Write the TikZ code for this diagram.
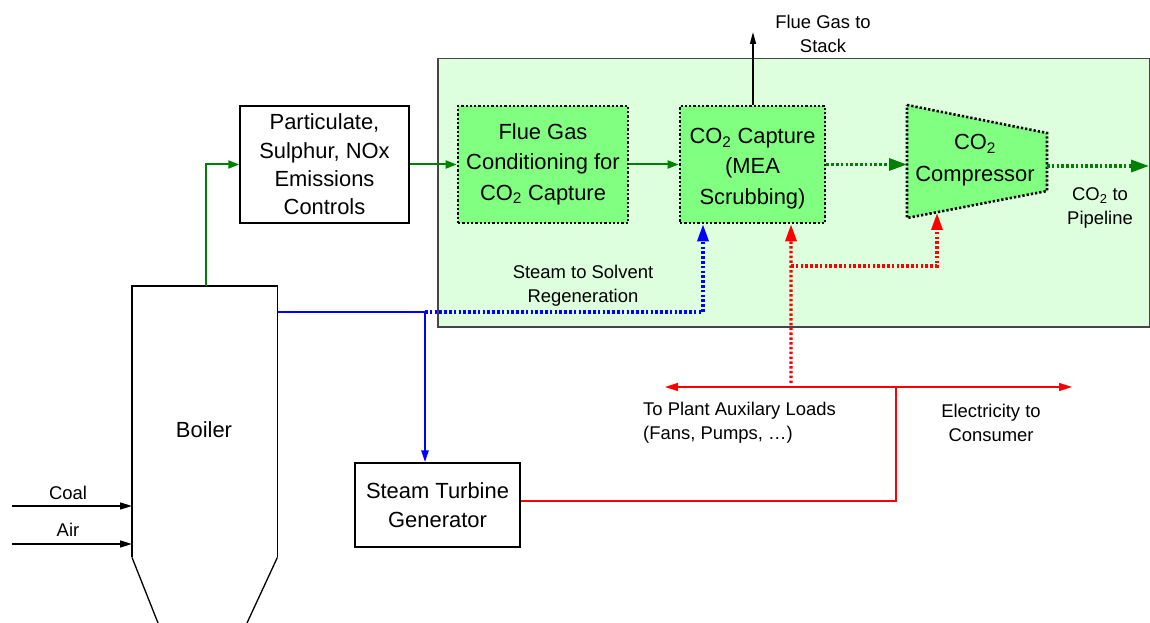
\documentclass[tikz,border=0pt]{standalone}
\usepackage{fontspec}
\setmainfont{Liberation Sans}
\usetikzlibrary{arrows.meta}
\definecolor{boxgreen}{RGB}{128,255,128}
\definecolor{bggreen}{RGB}{222,255,222}
\definecolor{flowgreen}{RGB}{0,128,0}
\definecolor{edgegray}{RGB}{70,70,70}
\begin{document}
\begin{tikzpicture}[x=1bp,y=-1bp,
  bigfont/.style={font=\fontsize{22}{28.5}\selectfont},
  widefont/.style={font=\fontsize{22}{30.5}\selectfont},
  smallfont/.style={font=\fontsize{18.5}{24}\selectfont},
  lbl/.style={smallfont, align=center, inner sep=0pt},
  boxtxt/.style={widefont, align=center, inner sep=0pt},
  plainbox/.style={draw=black, line width=1.3bp, fill=white, align=center, inner sep=0pt, bigfont},
  procbox/.style={draw=black, line width=2.6bp, dash pattern=on 2.3bp off 2bp, fill=boxgreen, inner sep=0pt},
  gflow/.style={draw=flowgreen, line width=2bp, -{Triangle[length=11bp,width=8bp]}},
  gdots/.style={draw=flowgreen, line width=3.3bp, dash pattern=on 2.6bp off 2.2bp, -{Triangle[length=18bp,width=12bp]}},
  bflow/.style={draw=blue, line width=2.5bp},
  bdots/.style={draw=blue, line width=3.3bp, dash pattern=on 2.5bp off 2.3bp},
  rdots/.style={draw=red, line width=3.3bp, dash pattern=on 2.5bp off 2.3bp},
  rflow/.style={draw=red, line width=1.5bp},
  kflow/.style={draw=black, line width=1.5bp, -{Triangle[length=12bp,width=7bp]}},
  bigtip/.style={-{Triangle[length=17bp,width=11bp]}},
]
\useasboundingbox (0,0) rectangle (1150,623);

% capture area
\node[draw=edgegray, line width=1.5bp, fill=bggreen, minimum width=712bp, minimum height=268bp, inner sep=0pt, anchor=north west] (area) at (437,58) {};

% boxes
\node[plainbox, minimum width=169bp, minimum height=117bp] (emis) at (324.5,164.5) {Particulate,\\Sulphur, NOx\\Emissions\\Controls};
\node[procbox, minimum width=170bp, minimum height=117bp] (fgc) at (543,164.5) {};
\node[boxtxt] (fgclbl) at (543,164) {Flue Gas\\Conditioning for\\CO\textsubscript{2} Capture};
\node[procbox, minimum width=145bp, minimum height=117bp] (capt) at (752.5,164.5) {};
\node[boxtxt] (captlbl) at (752.5,168.5) {CO\textsubscript{2} Capture\\(MEA\\Scrubbing)};
\node[plainbox, minimum width=165bp, minimum height=84bp] (stg) at (437.5,505) {Steam Turbine\\Generator};

% compressor
\draw[procbox] (907,105) -- (1047,133) -- (1047,191) -- (907,218) -- cycle;
\node[boxtxt, font=\fontsize{22}{32}\selectfont] (comp) at (975,160) {CO\textsubscript{2}\\Compressor};
\coordinate (compin) at (907,164.5);
\coordinate (compout) at (1047,166);
\coordinate (compbot) at (937,213);

% boiler
\node[minimum width=145bp, minimum height=271bp, inner sep=0pt, anchor=north west] (boiler) at (132,286) {};
\draw[line width=1.3bp] (boiler.south west) -- (boiler.north west) -- (boiler.north east) -- (boiler.south east);
\coordinate (funnelL) at (158,623);
\coordinate (funnelR) at (247,623);
\draw[line width=1.3bp] (boiler.south west) -- (funnelL);
\draw[line width=1.3bp] (boiler.south east) -- (funnelR);
\node[bigfont] (boilerlbl) at (204,430) {Boiler};

% coal and air
\coordinate (coalin) at (12,506);
\coordinate (airin) at (12,544);
\draw[kflow] (coalin) -- (coalin -| boiler.west);
\draw[kflow] (airin) -- (airin -| boiler.west);
\node[lbl] (coallbl) at (68,493) {Coal};
\node[lbl] (airlbl) at (68,530) {Air};

% flue gas path
\coordinate (flueout) at (206,286);
\draw[gflow] (flueout) |- (emis.west);
\draw[gflow] (emis.east) -- (fgc.west);
\draw[gflow] (fgc.east) -- (capt.west);
\draw[gdots] (capt.east) -- (compin);
\coordinate (pipe) at (1149,166);
\draw[gdots] (compout) -- (pipe);
\coordinate (stack) at (753,32);
\draw[draw=black, line width=1.5bp, -{Triangle[length=12bp,width=6bp]}] (capt.north -| stack) -- (stack);

% steam
\coordinate (steamout) at (277,312);
\coordinate (steamsplit) at (425,312);
\draw[bflow] (steamout) -- (steamsplit);
\draw[bflow, -{Triangle[length=12bp,width=7bp]}] (steamsplit) -- (steamsplit |- stg.north);
\draw[bdots, bigtip] (steamsplit) -| ([xshift=-49.5bp]capt.south);

% electricity
\coordinate (busL) at (665,387);
\coordinate (busR) at (1072,387);
\coordinate (busJ) at (896,387);
\draw[rflow, {Triangle[length=13bp,width=8bp]}-{Triangle[length=13bp,width=8bp]}] (busL) -- (busR);
\coordinate (stgout) at (stg.east |- 0,501);
\draw[rflow] (stgout) -| (busJ);
\coordinate (auxtap) at (791,383);
\draw[rdots, bigtip] (auxtap) -- ([xshift=38.5bp]capt.south);
\coordinate (auxbranch) at (791,266);
\draw[rdots, bigtip] (auxbranch) -| (compbot);

% labels
\node[lbl] (stacklbl) at (823,34) {Flue Gas to\\Stack};
\node[lbl] (pipelbl) at (1100,208) {CO\textsubscript{2} to\\Pipeline};
\node[lbl] (regenlbl) at (583,286) {Steam to Solvent\\Regeneration};
\node[lbl, align=left, anchor=west] (auxlbl) at (643,423) {To Plant Auxilary Loads\\(Fans, Pumps, …)};
\node[lbl] (eleclbl) at (991,423) {Electricity to\\Consumer};
\end{tikzpicture}
\end{document}
